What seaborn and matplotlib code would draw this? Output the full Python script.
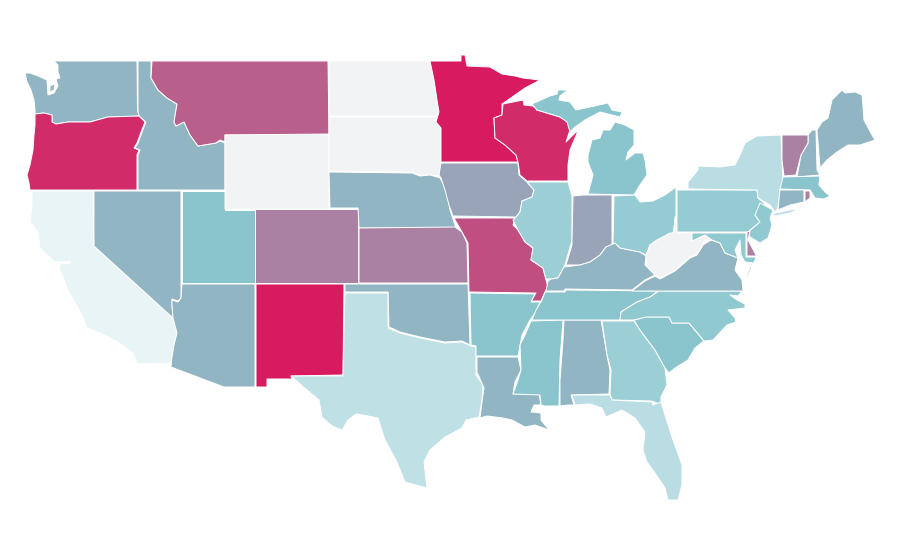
import numpy as np
import matplotlib
matplotlib.use("Agg")
import matplotlib.pyplot as plt
from matplotlib.collections import PolyCollection
from matplotlib.colors import Normalize
import seaborn as sns

sns.set_theme(style="white")

# Value per state, read from the fill colour; None = no data
state_names = ["WA","OR","CA","ID","NV","UT","AZ","MT","WY","CO","NM","ND","SD","NE","KS","OK","TX",
               "MN","IA","MO","AR","LA","WI","IL","MS","AL","MI","IN","KY","TN","OH","GA","FL","SC",
               "NC","VA","WV","PA","NY","ME","NH","VT","MA","CT","RI","NJ","DE","MD"]
state_values = [1,9,-8,1,1,0,1,6,None,4,10,None,None,1,4,1,-4.5,
                10,2,7,0,1,9,-1.5,0,1,0,2,1,0,-1,-1.5,-4,0,
                -0.5,1,None,-1,-4,1,1,4,0,1,4,-0.5,4,-0.5]

# State outlines (no geographic dataset is available offline): traced rings
outlines = {
 "WA":[[(54,61),(137,61),(137.5,110),(139,116),(108,117),(90,122),(68,122),(56,124),(52,122),(52,115),(44,113),(35,114),(35,110),(34,100),(31,90),(27,82),(25,73),(30,73),(38,76),(47,80),(48,95),(54,93),(58,86),(56,79),(60,78),(58,72),(58,65)],
       [(50,86),(55,84),(54,90),(50,92)]],
 "OR":[[(35,114),(44,113),(52,115),(52,122),(56,124),(68,122),(90,122),(108,117),(139,116),(145,122),(143,127),(137,143),(134,148),(139,150),(137,155),(137,190),(30,190),(29,183),(27,175),(30,165),(33,150),(34,135),(35,125)]],
 "ID":[[(138,61),(151,61),(151,78),(158,90),(167,98),(177,104),(174,122),(176,126),(184,122),(190,135),(198,146),(216,143),(220,141),(225,143),(225,190),(138,190),(138,155),(140,150),(135,148),(138,143),(144,127),(146,122),(139,116),(138,110)]],
 "MT":[[(152,61),(328,61),(329,135),(225,135),(225,142),(220,140),(216,143),(198,146),(190,135),(184,122),(176,126),(174,122),(177,104),(167,98),(158,90),(151,78)]],
 "WY":[[(225,135),(329,134),(329,209),(225,209)]],
 "CA":[[(32,191),(93,191),(93.5,246),(173,318),(177,333),(174,345),(172,357),(171,363),(137,364),(133,353),(118,342),(100,333),(87,328),(82,315),(68,290),(63,277),(59,268),(60,264),(71,263),(70,261),(60,262),(55,262),(40,248),(38,232),(30,222),(32,205)]],
 "NV":[[(94,191),(181,191),(181,298),(178,301),(172,299),(172,305),(173,318),(94,246)]],
 "UT":[[(182,191),(225,191),(225,209.5),(255,209.5),(255,283),(182,283)]],
 "AZ":[[(182,284),(255,284),(255,387),(224,387),(171,367),(172,357),(174,345),(177,333),(173,318),(172,305),(172,300),(178,302),(181,298)]],
 "CO":[[(255,209),(358,209),(358,283),(255,283)]],
 "NM":[[(256,284),(344,284),(343,375),(291,376),(292,379),(267,379),(267,387),(256,387)]],
 "ND":[[(329,61),(430,61),(434,80),(437,100),(439,110),(437,116),(329,116)]],
 "SD":[[(329,117),(437,117),(438,122),(441,128),(441,163),(440,172),(438,176),(430,175),(420,175),(412,172),(329,171)]],
 "NE":[[(329,172),(412,173),(420,176),(430,175),(440,178),(447,190),(450,210),(456,228),(359,228),(358,208),(330,208)]],
 "KS":[[(359,228),(455,227),(462,232),(467,243),(468,283),(359,283)]],
 "OK":[[(345,284),(468,284),(470,345),(462,341),(445,342),(420,337),(400,332),(389,327),(388,292),(345,292)]],
 "TX":[[(345,293),(388,293),(388,328),(400,333),(420,338),(445,343),(462,342),(471,346),(476,347),(476,375),(483,385),(482,400),(479,417),(466,420),(462,428),(445,437),(430,450),(424,462),(427,488),(405,482),(396,460),(385,440),(378,418),(368,416),(356,414),(348,420),(342,430),(332,426),(322,417),(319,400),(307,390),(291,376),(343,376)]],
 "MN":[[(430,61),(461,61),(461,55),(465,55),(467,66),(490,67),(502,74),(515,76),(523,78),(540,80),(525,88),(505,102),(502,104),(502,115),(494,118),(495,138),(505,145),(516,155),(518,162),(441,162),(441,128),(436,122),(439,112),(437,100),(434,80)]],
 "IA":[[(441,163),(518,163),(519,175),(527,182),(534,190),(532,197),(522,201),(520,212),(516,217),(453,216),(449,205),(445,190),(441,178),(439,175)]],
 "MO":[[(454,218),(515,218),(513,225),(518,230),(525,242),(533,248),(531,260),(543,268),(546,280),(548,287),(545,292),(541,301),(531,301),(536,293),(469,292),(468,243),(462,232)]],
 "AR":[[(470,293),(535,294),(531,302),(540,302),(536,312),(530,320),(522,335),(518,356),(476,356),(476,346),(471,345)]],
 "LA":[[(477,357),(518,357),(521,370),(515,382),(513,394),(539,394),(541,405),(534,405),(531,412),(541,413),(541,420),(549,430),(535,425),(525,427),(512,420),(503,418),(487,416),(480,418),(482,402),(484,388),(477,372)]],
 "WI":[[(503,104),(523,100),(524,105),(533,106),(537,110),(560,117),(567,121),(570,130),(566,142),(575,133),(578,131),(570,150),(568,165),(568,181),(527,181),(520,175),(518,162),(516,155),(505,145),(495,138),(494,118),(502,115)]],
 "IL":[[(568,182),(572,196),(572,240),(565,265),(558,278),(551,279),(546,279),(543,268),(531,260),(533,248),(525,242),(518,230),(513,220),(516,217),(520,212),(522,201),(532,197),(534,190),(527,182)]],
 "MS":[[(531,321),(563,320),(560,360),(559,406),(545,406),(541,405),(540,395),(513,394),(518,380),(521,370),(520,345),(525,335)]],
 "AL":[[(564,320),(601,320),(607,355),(610,370),(609,394),(571,395),(574,405),(568,405),(560,406),(560,380),(563,340)]],
 "MI":[[(588,194),(634,195),(640,185),(647,175),(645,160),(643,153),(635,153),(626,160),(628,152),(634,145),(634,130),(625,125),(615,122),(610,130),(603,130),(600,138),(592,140),(588,155),(588,162),(593,175)],
       [(532,104),(550,96),(557,94),(558,90),(568,90),(560,96),(559,100),(570,102),(576,110),(590,107),(608,103),(612,110),(622,112),(620,117),(600,112),(585,120),(575,127),(570,132),(567,122),(560,117),(537,110)]],
 "IN":[[(573,196),(583,195),(612,195),(612,245),(606,247),(600,255),(590,262),(580,265),(566,265),(572,245),(572,240)]],
 "KY":[[(548,281),(551,279),(558,278),(564,267),(580,265),(590,262),(600,255),(606,247),(615,243),(620,248),(640,252),(646,256),(645,265),(655,275),(645,280),(632,290),(565,289),(564,291),(546,291)]],
 "TN":[[(545,292),(565,292),(566,290),(658,291),(650,297),(637,302),(621,312),(620,320),(532,320),(536,310),(542,300)]],
 "OH":[[(614,196),(635,195),(640,202),(653,201),(665,195),(676,187),(676,215),(673,233),(657,240),(650,245),(646,255),(640,252),(620,248),(615,243),(613,244)]],
 "GA":[[(602,321),(634,321),(640,330),(655,350),(665,368),(667,385),(661,397),(661,405),(652,401),(612,400),(610,394),(611,370),(607,355)]],
 "FL":[[(572,395),(610,395),(612,400),(652,402),(653,405),(661,402),(665,415),(673,440),(682,465),(682,485),(678,500),(668,500),(665,488),(655,473),(647,462),(643,450),(645,432),(635,418),(622,410),(606,417),(602,408),(590,404),(575,405)]],
 "SC":[[(634,320),(646,317),(669,317),(672,323),(689,323),(704,341),(695,348),(688,360),(675,368),(669,373),(665,368),(655,350),(640,330)]],
 "NC":[[(659,291),(742,291),(738,296),(730,295),(737,300),(745,304),(745,308),(728,310),(735,318),(736,322),(727,325),(713,340),(704,341),(689,323),(672,323),(669,317),(646,317),(634,320),(620,320),(621,312),(637,302),(650,297)]],
 "VA":[[(632,291),(645,281),(655,276),(660,279),(675,271),(690,258),(697,255),(703,245),(711,240),(720,243),(725,253),(738,258),(737,262),(735,270),(742,280),(743,291)],
       [(752,266),(748,276),(746,278),(750,267)]],
 "WV":[[(646,255),(650,245),(657,240),(670,233),(674,233),(675,217),(678,233),(692,233),(692,241),(705,235),(710,233),(716,240),(705,240),(700,250),(695,255),(690,257),(675,270),(660,278),(655,275),(647,265)]],
 "PA":[[(677,190),(687,190),(757,190),(758,198),(765,204),(755,215),(760,222),(748,232),(677,232)]],
 "NY":[[(688,189),(688,182),(698,170),(698,166),(720,167),(735,165),(740,155),(745,143),(757,136),(781,135),(782,160),(783,185),(780,190),(778,208),(775,212),(770,205),(758,198),(757,190)],
       [(772,214),(790,210),(800,209),(790,213),(775,216)]],
 "ME":[[(817,130),(822,122),(828,118),(832,100),(842,90),(845,93),(855,92),(862,95),(864,120),(872,135),(875,140),(860,145),(848,145),(837,152),(827,160),(820,168)]],
 "NH":[[(812,130),(816,130),(817,170),(820,175),(797,177),(801,155),(808,143),(808,135)]],
 "VT":[[(782,135),(808,135),(808,143),(801,155),(796,175),(784,176),(782,160)]],
 "MA":[[(783,177),(820,176),(819,185),(825,192),(830,196),(824,199),(815,198),(810,190),(780,189)]],
 "CT":[[(780,190),(804,190),(804,202),(790,205),(778,210)]],
 "RI":[[(805,191),(810,191),(810,198),(805,202)]],
 "NJ":[[(760,203),(773,210),(770,218),(772,225),(768,238),(760,243),(750,237),(748,232),(760,222),(755,215)]],
 "DE":[[(747,232),(750,231),(748,240),(756,255),(756,256),(747,256)]],
 "MD":[[(692,233),(746,233),(746,257),(756,257),(754,263),(745,262),(741,255),(740,240),(735,250),(738,258),(725,253),(720,243),(712,240),(705,235),(692,241)]],
}

fig, ax = plt.subplots(figsize=(9, 5.6), dpi=100)
fig.subplots_adjust(0, 0, 1, 1)

cmap = sns.blend_palette(["#FFFFFF", "#8AC6CE", "#D81B60"], as_cmap=True)
cmap.set_bad("#F2F3F5")

rings, ring_values = [], []
for name, value in zip(state_names, state_values):
    for ring in outlines[name]:
        rings.append(ring)
        ring_values.append(np.nan if value is None else value)

states = PolyCollection(rings, array=np.ma.masked_invalid(ring_values), cmap=cmap,
                        norm=Normalize(-10, 10), edgecolors="white", linewidths=0.7)
ax.add_collection(states)
ax.set_xlim(0, 900)
ax.set_ylim(560, 0)
ax.set_axis_off()
fig.savefig("out.png", dpi=100, facecolor="white")
